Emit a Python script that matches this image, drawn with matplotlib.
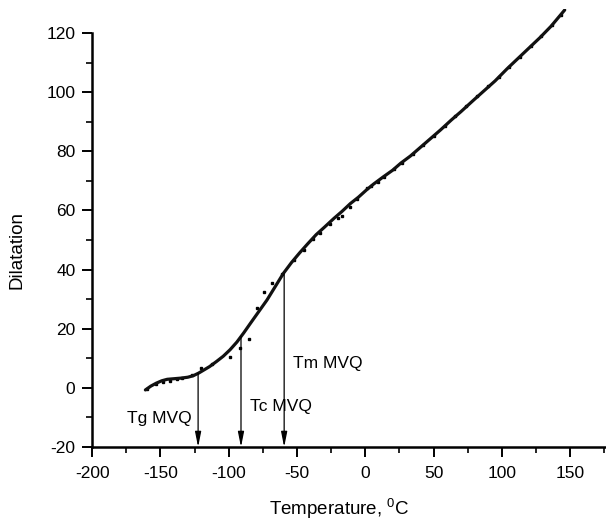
import matplotlib.pyplot as plt
import numpy as np

plt.rcParams['font.family'] = ['Liberation Sans', 'DejaVu Sans']
plt.rcParams['axes.unicode_minus'] = False

# fitted curve
fit_t = [-161, -157, -153, -149, -145, -140, -135, -130, -126, -122, -118, -114,
         -109, -104, -99, -94, -89, -84, -78, -72, -66, -60, -54, -48, -42,
         -36, -30, -23, -17, -11, -5, 1, 6, 13, 20, 26, 33, 40, 48, 55, 63,
         70, 79, 87, 95, 104, 112, 120, 128, 136, 146]
fit_d = [-0.7, 0.6, 1.6, 2.4, 2.9, 3.1, 3.3, 3.6, 4.1, 5.0, 6.1, 7.2,
         8.9, 10.7, 12.9, 15.5, 18.6, 21.9, 25.8, 29.7, 34.2, 38.7, 42.4, 45.7, 48.8,
         51.8, 54.3, 57.3, 59.7, 62.3, 64.5, 67.0, 68.9, 71.3, 73.6, 76.0, 78.4, 81.2, 84.4, 87.2, 90.6,
         93.4, 97.2, 100.5, 103.8, 108.0, 111.5, 115.0, 118.5, 122.3, 127.8]

# measured points
pts_t = [-160, -153, -148, -143, -138, -134, -127, -120, -112, -99, -92, -85,
         -79, -74, -68, -61, -52, -45, -38, -33, -26, -20, -17, -11, -6,
         1, 4, 9, 14, 21, 27, 35, 42, 50, 58, 66, 74, 82, 90, 98, 105,
         113, 121, 129, 137, 143]
pts_d = [-0.5, 1.2, 2.1, 2.4, 3.0, 3.4, 4.3, 6.6, 8.2, 10.5, 13.5, 16.4,
         26.9, 32.5, 35.4, 38.4, 43.3, 46.6, 50.2, 52.5, 55.5, 57.6, 58.2, 61.3, 64.0,
         67.6, 68.2, 69.6, 71.4, 73.9, 76.1, 79.2, 82.0, 85.3, 88.5, 91.8, 95.2, 98.8, 102.0, 105.3, 108.4,
         112.0, 115.5, 118.9, 122.6, 126.0]

# transitions: label, temperature, curve value, text position
trans_lbl = ['Tg MVQ', 'Tc MVQ', 'Tm MVQ']
trans_t = [-122.4, -91.0, -59.4]
trans_d = [5.0, 17.3, 38.6]
lbl_x = [-127, -84.5, -53]
lbl_y = [-10.5, -6.4, 8.3]
lbl_ha = ['right', 'left', 'left']

fig = plt.figure(figsize=(6.06, 5.21), dpi=100)
ax = fig.add_axes([0.152, 0.142, 0.8475, 0.84])

ax.plot(pts_t, pts_d, 's', color='black', markersize=2.0, zorder=2)
ax.plot(fit_t, fit_d, '-', color='#111111', linewidth=2.3,
        solid_capstyle='round', solid_joinstyle='round', zorder=3)

for lbl, t, d, tx, ty, ha in zip(trans_lbl, trans_t, trans_d, lbl_x, lbl_y, lbl_ha):
    ax.annotate('', xy=(t, -20), xytext=(t, d),
                arrowprops=dict(arrowstyle='-|>,head_length=0.9,head_width=0.18',
                                color='black', lw=0.9, shrinkA=0, shrinkB=0))
    ax.text(tx, ty, lbl, ha=ha, va='center', fontsize=12.5)

ax.set_xlim(-200, 176)
ax.set_ylim(-20, 128)
ax.set_xticks(np.arange(-200, 151, 50))
ax.set_xticks(np.arange(-200, 176, 25), minor=True)
ax.set_yticks(np.arange(-20, 121, 20))
ax.set_yticks(np.arange(-20, 121, 10), minor=True)

for s in ['top', 'right']:
    ax.spines[s].set_visible(False)
ax.spines['left'].set_bounds(-20, 120)
ax.spines['left'].set_linewidth(1.8)
ax.spines['bottom'].set_linewidth(1.8)

ax.tick_params(which='major', direction='out', length=7, width=1.4,
               labelsize=12.5, pad=5)
ax.tick_params(which='minor', direction='out', length=4, width=1.2)
ax.tick_params(axis='x', which='major', pad=7)

ax.set_xlabel('Temperature, $^\\mathregular{0}$C', fontsize=13.5)
ax.set_ylabel('Dilatation', fontsize=13.5)
ax.xaxis.set_label_coords(0.481, -0.112)
ax.yaxis.set_label_coords(-0.130, 0.45)

fig.savefig('out.png', dpi=100)
